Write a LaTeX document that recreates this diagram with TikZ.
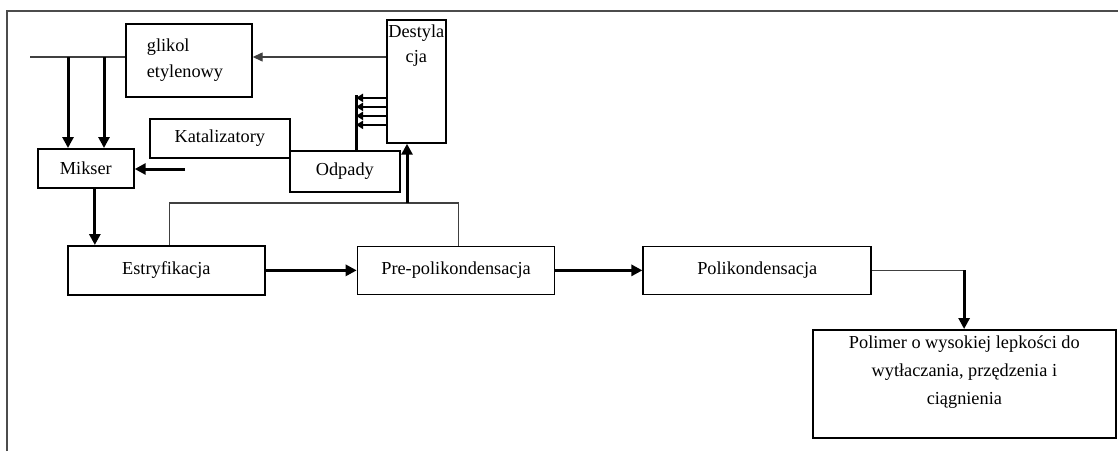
\documentclass[tikz,border=0pt]{standalone}
\usepackage{fontspec}
\setmainfont{Liberation Serif}
\usetikzlibrary{arrows.meta, positioning}

\begin{document}
\begin{tikzpicture}[
    x=1pt, y=-1pt,
    font=\fontsize{18.3}{26}\selectfont,
    box/.style={
        draw,
        line width=1.7pt,
        fill=white,
        inner sep=0pt,
        anchor=north west
    },
    flow/.style={
        line width=3pt,
        -{Triangle[length=11pt, width=11pt]}
    },
    pipe/.style={
        line width=1.3pt,
        draw=black!75
    }
]
\useasboundingbox (0,0) rectangle (1118,451);

% frame
\draw[line width=1.4pt, black!70] (7,451) -- (7,11) -- (1118,11);

% Raw materials and recovery
\node[box, minimum width=126pt, minimum height=73pt,
      text width=84pt, align=left] (glycol) at (125,23) {glikol\\etylenowy};

\node[box, minimum width=59pt, minimum height=123pt] (dist) at (386,19) {};
\node[anchor=north, inner sep=0pt, align=center,
      font=\fontsize{18.3}{25}\selectfont] (distname)
      at ([yshift=-6pt]dist.north) {Destyla\\cja};

\node[box, minimum width=140pt, minimum height=39pt] (cat) at (149,118) {Katalizatory};
\node[box, minimum width=110pt, minimum height=41pt] (waste) at (289,150) {Odpady};
\node[box, minimum width=96pt, minimum height=39pt] (mixer) at (37,148) {Mikser};

% Reaction line
\node[box, minimum width=197pt, minimum height=49pt] (ester) at (67,245) {Estryfikacja};
\node[box, minimum width=197pt, minimum height=48pt, right=91pt of ester] (prepoly) {Pre-polikondensacja};
\node[box, minimum width=228pt, minimum height=48pt, right=87pt of prepoly] (poly) {Polikondensacja};

% Product
\node[box, minimum width=303pt, minimum height=108pt] (product) at (812,329) {};
\node[anchor=north, inner sep=0pt, align=center,
      font=\fontsize{18.3}{28}\selectfont] (productname)
      at ([yshift=-7pt]product.north)
      {Polimer o wysokiej lepkości do\\wytłaczania, przędzenia i\\ciągnienia};

% feeds into the mixer
\coordinate (feed) at (30,57);
\coordinate (inA) at (68,57);
\coordinate (inB) at (104,57);
\coordinate (catin) at (185,169);
\draw[pipe] (feed) -- (feed -| glycol.west);
\draw[pipe, -{Triangle[length=10pt, width=9pt]}] (feed -| dist.west) -- (feed -| glycol.east);
\draw[flow] (inA) -- (inA |- mixer.north);
\draw[flow] (inB) -- (inB |- mixer.north);
\draw[flow] (catin) -- (catin -| mixer.east);
\draw[flow] ([xshift=9pt]mixer.south) -- ([xshift=9pt]mixer.south |- ester.north);

% waste to distillation
\coordinate (stack) at (356,95);
\draw[line width=3pt] (waste.north -| stack) -- (stack);
\foreach \dy in {16.5,25.5,34.5,43.5}
    \draw[line width=2.6pt, -{Triangle[length=7pt, width=8pt]}]
        ([yshift=-\dy pt]dist.west) -- ++(-30,0);

% vapours back to distillation
\draw[pipe] ([xshift=3pt]ester.north) -- ++(0,-42) -| ([xshift=2.5pt]prepoly.north);
\coordinate (vap) at (407,203);
\draw[flow] (vap) -- (vap |- dist.south);

% main line
\draw[flow] (ester) -- (prepoly);
\draw[flow] (prepoly) -- (poly);
\draw[pipe] (poly.east) -- ++(92,0) coordinate (drop);
\draw[flow] (drop) -- (drop |- product.north);

\end{tikzpicture}
\end{document}
